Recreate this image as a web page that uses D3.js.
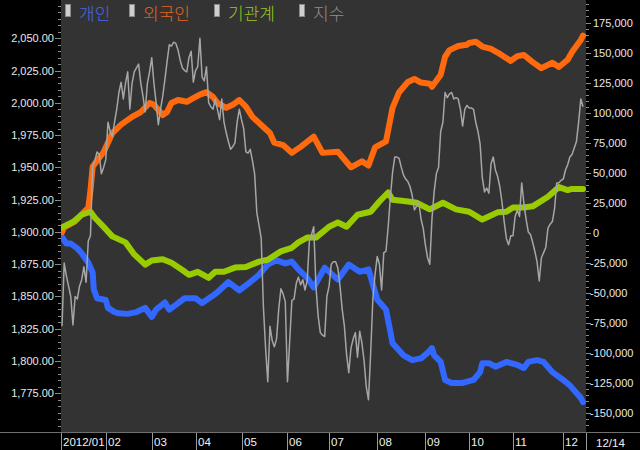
<!DOCTYPE html>
<html><head><meta charset="utf-8">
<script src="https://cdn.jsdelivr.net/npm/d3@7"></script>
<style>html,body{margin:0;padding:0;background:#000;} svg{display:block;}</style>
</head><body><svg id="c" width="640" height="450"></svg>
<script>
// ---------- data ----------
const legendNames = ["개인", "외국인", "기관계", "지수"];
const monthLabels = ["2012/01", "02", "03", "04", "05", "06", "07", "08", "09", "10", "11", "12"];
const monthStartDays = [0, 20, 41, 61, 82, 103, 122, 144, 166, 186, 206, 229];
const lastDateLabel = "12/14";
const lastDay = 238;
const leftTickValues = [1775, 1800, 1825, 1850, 1875, 1900, 1925, 1950, 1975, 2000, 2025, 2050];
const rightTickValues = [-150000, -125000, -100000, -75000, -50000, -25000, 0, 25000, 50000, 75000, 100000, 125000, 150000, 175000];

// 지수 (KOSPI), one value per trading day
const indexValues = [
 1827,1876,1866,1858,1850,1828,1850,1848,1858,1863,1873,1861,1893,
 1897,1951,1955,1962,1960,1945,1950,1956,
 1985,1978,1974,1985,1995,2008,2016,2003,2015,2024,
 1995,2015,2024,2027,2030,2015,2005,1993,2015,2024,
 2035,2015,2000,1983,1995,2005,2018,2032,2045,2044,
 2047,2046,2041,2033,2027,2025,2024,2035,2040,2016,
 2025,2028,2050,2020,2017,2028,2000,1997,1995,2003,
 1995,1987,2003,1985,1977,1970,1964,1966,1969,1985,
 1995,1987,1980,1962,1961,1964,1955,1945,1915,1905,
 1895,1842,1810,1784,1827,1816,1811,1817,1840,1856,
 1852,1846,1784,1815,1847,1848,1860,1865,1859,1863,
 1855,1862,1893,1898,1904,1858,1835,1822,1820,1819,
 1850,1858,1875,1877,1877,1872,1858,1840,1827,1805,
 1791,1810,1817,1822,1803,1823,1814,1800,1780,1770,
 1806,1848,1867,1881,1875,1855,1884,1885,1904,1927,
 1946,1958,1958,1957,1950,1944,1941,1939,1935,1928,
 1917,1920,1923,1910,1903,1890,1880,1875,1910,1931,
 1945,1950,1978,1985,2008,2004,2007,2008,2003,2004,
 2003,1995,1982,1995,1998,1996,1996,1995,1985,1978,
 1968,1942,1931,1934,1930,1953,1958,1948,1943,1935,
 1923,1908,1895,1890,1897,1897,1912,1917,1912,1938,
 1922,1910,1900,1898,1892,1885,1877,1862,1880,1884,
 1888,1903,1906,1908,1918,1938,1938,1940,1941,1948,
 1952,1958,1960,1965,1970,1985,2003,1997
];

// 누적 순매수 [trading day, value]
const foreignValues = [
 [0,500],[1,4500],[6,9500],[12,21000],[13,35000],[14,55000],[16,60000],[19,67000],[23,83000],[27,90000],
 [32,96500],[36,100500],[40,108000],[42,106500],[46,98000],[48,100500],[50,108000],[53,110500],[57,109000],
 [60,112000],[63,115000],[66,117000],[69,113000],[71,108000],[75,104000],[78,106500],[81,110500],[84,105000],
 [87,96500],[92,88000],[95,83000],[97,75000],[101,73000],[105,66500],[109,71500],[115,80000],[119,66500],
 [126,67500],[132,54500],[137,59500],[140,56000],[143,71000],[148,76000],[151,104000],[154,117000],
 [158,125500],[161,128000],[164,125000],[168,124000],[169,121500],[173,131500],[175,146500],[177,152000],
 [181,155500],[185,156500],[186,158000],[189,159000],[192,155000],[196,153000],[199,150000],[205,143000],
 [208,147000],[211,148000],[215,142000],[219,137000],[224,141500],[227,138000],[231,144000],[233,150500],
 [237,160500],[238,164000]
];
const instValues = [
 [0,4500],[5,9000],[9,15000],[13,17500],[15,12500],[20,3000],[23,-3000],[29,-8000],[33,-18000],[38,-26500],
 [41,-23000],[46,-22000],[50,-25000],[55,-31000],[58,-35000],[62,-32500],[67,-37500],[70,-32500],[74,-32500],
 [79,-29000],[84,-28500],[90,-24000],[94,-22500],[100,-15500],[105,-12500],[108,-8000],[112,-4000],[116,-4000],
 [122,5000],[126,8500],[130,5000],[135,15000],[141,17500],[145,26000],[149,33500],[151,27500],[158,26000],
 [162,25000],[168,19500],[174,25000],[180,19500],[186,17500],[192,11000],[199,17000],[203,17500],[206,21000],
 [211,21000],[215,22000],[222,30000],[227,38000],[231,35500],[233,36500],[238,36500]
];
const retailValues = [
 [0,-3500],[2,-9000],[4,-9000],[7,-13000],[9,-17000],[12,-25000],[14,-33000],[14.5,-47000],[16,-54500],[20,-56000],
 [21,-62500],[24,-66000],[26,-67000],[30,-67500],[34,-66000],[38,-62500],[41,-70000],[43,-64000],[47,-58000],[49,-64000],
 [52,-60000],[56,-54500],[61,-54500],[64,-58500],[68,-53500],[71,-49500],[76,-41000],[81,-48000],[86,-41000],
 [90,-35000],[94,-26500],[98,-23000],[102,-25500],[105,-24000],[108,-30500],[112,-37500],[115,-45500],
 [120,-29000],[126,-39000],[131,-26500],[136,-32500],[140,-30500],[144,-55500],[148,-64000],[150,-82400],
 [151,-92000],[156,-102000],[160,-106000],[164,-104500],[167,-100000],[169,-96000],[170,-102000],[173,-107500],
 [175,-122500],[178,-125000],[183,-125000],[188,-122500],[191,-116000],[192,-108500],[195,-108500],[198,-111500],
 [203,-107500],[208,-110000],[211,-112500],[213,-107500],[217,-106000],[220,-107500],[224,-116000],[229,-122500],
 [232,-127000],[237,-137500],[238,-141000]
];

// ---------- layout ----------
const W = 640, H = 450;
const plot = {x0: 61, x1: 586, y0: 0, y1: 432};
const svg = d3.select("#c");

const x = d3.scaleLinear().domain([0, lastDay]).range([62, 583]);
const yL = d3.scaleLinear().domain([1775, 2050]).range([393.3, 38.3]);
const yR = d3.scaleLinear().domain([-150000, 175000]).range([413, 22.5]);

const loc = d3.formatLocale({decimal: ".", thousands: ",", grouping: [3], currency: ["", ""], minus: "-"});
const fL = loc.format(",.2f"), fR = loc.format(",");

svg.append("rect").attr("width", W).attr("height", H).attr("fill", "#000");
svg.append("rect").attr("x", plot.x0).attr("y", plot.y0)
  .attr("width", plot.x1 - plot.x0).attr("height", plot.y1 - plot.y0).attr("fill", "#333333");

svg.append("defs").append("clipPath").attr("id", "clip").append("rect")
  .attr("x", plot.x0).attr("y", plot.y0).attr("width", plot.x1 - plot.x0).attr("height", plot.y1 - plot.y0);

// left axis ticks
const tickCol = "#8a8a8a";
const gAx = svg.append("g");
const leftMinor = d3.range(1745, 2080, 5).filter(v => yL(v) >= 1 && yL(v) <= 431);
gAx.selectAll(".lm").data(leftMinor).join("line")
  .attr("x1", v => leftTickValues.includes(v) ? 55 : 58).attr("x2", 61)
  .attr("y1", v => Math.round(yL(v)) + 0.5).attr("y2", v => Math.round(yL(v)) + 0.5)
  .attr("stroke", tickCol).attr("stroke-width", 1);
gAx.selectAll(".ll").data(leftTickValues).join("text")
  .attr("x", 54).attr("y", v => yL(v) + 4)
  .attr("text-anchor", "end").attr("fill", "#e8e8e8")
  .attr("font-family", "Liberation Sans, Arial, sans-serif").attr("font-size", 11)
  .text(v => fL(v));

// right axis ticks
const rightMinor = d3.range(-175000, 200001, 5000).filter(v => yR(v) >= 1 && yR(v) <= 431);
gAx.selectAll(".rm").data(rightMinor).join("line")
  .attr("x1", 586).attr("x2", v => rightTickValues.includes(v) ? 591 : 589)
  .attr("y1", v => Math.round(yR(v)) + 0.5).attr("y2", v => Math.round(yR(v)) + 0.5)
  .attr("stroke", tickCol).attr("stroke-width", 1);
gAx.selectAll(".rl").data(rightTickValues).join("text")
  .attr("x", v => v < 0 ? 590 : 593).attr("y", v => yR(v) + 4)
  .attr("text-anchor", "start").attr("fill", "#e8e8e8")
  .attr("font-family", "Liberation Sans, Arial, sans-serif").attr("font-size", 11)
  .text(v => fR(v));

// bottom strip
svg.append("line").attr("x1", 0).attr("x2", W).attr("y1", 432.5).attr("y2", 432.5)
  .attr("stroke", "#707070");
const gB = svg.append("g");
const seps = monthStartDays.map(d => d === 0 ? plot.x0 : Math.round(x(d)));
gB.selectAll(".sep").data(seps.concat([plot.x1])).join("line")
  .attr("x1", v => v + 0.5).attr("x2", v => v + 0.5).attr("y1", 433).attr("y2", H)
  .attr("stroke", "#9a9a9a");
gB.selectAll(".ml").data(monthLabels).join("text")
  .attr("x", (t, i) => seps[i] + 2).attr("y", 446)
  .attr("fill", "#f0f0f0").attr("font-family", "Liberation Sans, Arial, sans-serif").attr("font-size", 11.5)
  .text(t => t);
gB.append("text").attr("x", 596).attr("y", 447).attr("fill", "#f0f0f0")
  .attr("font-family", "Liberation Sans, Arial, sans-serif").attr("font-size", 11.5).text(lastDateLabel);

// series lines
const gL = svg.append("g").attr("clip-path", "url(#clip)");
const lineR = d3.line().x(d => x(d[0])).y(d => yR(d[1]));
const lineI = d3.line().x((d, i) => x(i)).y(d => yL(d));
const thick = [
  {data: retailValues, color: "#3268ff"},
  {data: foreignValues, color: "#ff6a0e"},
  {data: instValues, color: "#99cc00"}
];
gL.selectAll(".th").data(thick).join("path")
  .attr("d", s => lineR(s.data)).attr("fill", "none")
  .attr("stroke", s => s.color).attr("stroke-width", 6)
  .attr("stroke-linejoin", "round").attr("stroke-linecap", "round");
gL.append("path").attr("d", lineI(indexValues)).attr("fill", "none")
  .attr("stroke", "#a6a6a6").attr("stroke-width", 1.5).attr("stroke-linejoin", "round");

// legend
const legendColors = ["#4a6ae0", "#e2661c", "#99c81e", "#8e8e8e"];
const legendX = [65, 129, 214, 299];
const gLeg = svg.append("g");
legendNames.forEach((n, i) => {
  gLeg.append("rect").attr("x", legendX[i] + 0.5).attr("y", 4.5).attr("width", 5).attr("height", 12)
    .attr("fill", "#cfcfcf").attr("stroke", "#8a8a8a").attr("stroke-width", 1);
  gLeg.append("text").attr("x", legendX[i] + 14).attr("y", 20)
    .attr("fill", legendColors[i]).attr("font-family", "Noto Sans CJK KR, sans-serif")
    .attr("font-size", 17).attr("font-weight", 300).text(n);
});
</script></body></html>
